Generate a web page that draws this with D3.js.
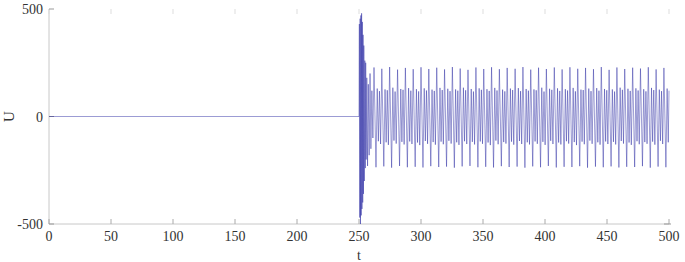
<!DOCTYPE html>
<html>
<head>
<meta charset="utf-8">
<script src="https://cdn.jsdelivr.net/npm/d3@7"></script>
<style>
  body { margin: 0; background: #fff; }
  text { font-family: "Liberation Serif", "Times New Roman", serif; fill: #333; }
</style>
</head>
<body>
<svg id="chart"></svg>
<script>
// t / U samples (extrema of the signal), one cycle per line
const tValues = [
  0, 250.0,
  250.3, 250.6, 250.9, 251.2, 251.5, 251.8, 252.1, 252.4, 252.7, 253.0,
  253.3, 253.6, 253.9, 254.3, 254.7, 255.1, 255.4, 255.8, 256.3, 256.9,
  257.5, 258.2, 258.9, 259.6, 260.4, 261.2,
  262.1, 263.7, 264.7, 265.6, 266.5, 267.4,
  268.4, 270.0, 271.0, 271.9, 272.8, 273.7,
  274.7, 276.3, 277.3, 278.2, 279.1, 280.0,
  281.1, 282.7, 283.7, 284.6, 285.5, 286.4,
  287.4, 289.0, 290.0, 290.9, 291.8, 292.7,
  293.7, 295.3, 296.3, 297.2, 298.1, 299.0,
  300.0, 301.6, 302.6, 303.5, 304.4, 305.3,
  306.3, 307.9, 308.9, 309.8, 310.7, 311.6,
  312.7, 314.3, 315.3, 316.2, 317.1, 318.0,
  319.0, 320.6, 321.6, 322.5, 323.4, 324.3,
  325.3, 326.9, 327.9, 328.8, 329.7, 330.6,
  331.6, 333.2, 334.2, 335.1, 336.0, 336.9,
  337.9, 339.5, 340.5, 341.4, 342.3, 343.2,
  344.3, 345.9, 346.9, 347.8, 348.7, 349.6,
  350.6, 352.2, 353.2, 354.1, 355.0, 355.9,
  356.9, 358.5, 359.5, 360.4, 361.3, 362.2,
  363.2, 364.8, 365.8, 366.7, 367.6, 368.5,
  369.5, 371.1, 372.1, 373.0, 373.9, 374.8,
  375.9, 377.5, 378.5, 379.4, 380.3, 381.2,
  382.2, 383.8, 384.8, 385.7, 386.6, 387.5,
  388.5, 390.1, 391.1, 392.0, 392.9, 393.8,
  394.8, 396.4, 397.4, 398.3, 399.2, 400.1,
  401.1, 402.7, 403.7, 404.6, 405.5, 406.4,
  407.5, 409.1, 410.1, 411.0, 411.9, 412.8,
  413.8, 415.4, 416.4, 417.3, 418.2, 419.1,
  420.1, 421.7, 422.7, 423.6, 424.5, 425.4,
  426.4, 428.0, 429.0, 429.9, 430.8, 431.7,
  432.7, 434.3, 435.3, 436.2, 437.1, 438.0,
  439.1, 440.7, 441.7, 442.6, 443.5, 444.4,
  445.4, 447.0, 448.0, 448.9, 449.8, 450.7,
  451.7, 453.3, 454.3, 455.2, 456.1, 457.0,
  458.0, 459.6, 460.6, 461.5, 462.4, 463.3,
  464.3, 465.9, 466.9, 467.8, 468.7, 469.6,
  470.7, 472.3, 473.3, 474.2, 475.1, 476.0,
  477.0, 478.6, 479.6, 480.5, 481.4, 482.3,
  483.3, 484.9, 485.9, 486.8, 487.7, 488.6,
  489.6, 491.2, 492.2, 493.1, 494.0, 494.9,
  495.9, 497.5, 498.5, 499.4, 500.0
];
const uValues = [
  0, 0,
  430, -470, 455, -500, 470, -460, 480, -430, 440, -400,
  380, -360, 330, -300, 260, -240, 250, -200, 180, -230,
  150, -180, 200, -150, 120, -100,
  228, -236, 130, -115, 118, -128,
  222, -232, 126, -120, 122, -132,
  230, -238, 134, -112, 116, -126,
  218, -230, 128, -118, 124, -130,
  226, -236, 132, -116, 120, -128,
  220, -234, 127, -121, 117, -133,
  229, -237, 131, -114, 121, -127,
  221, -231, 125, -119, 119, -131,
  227, -235, 133, -117, 123, -129,
  219, -233, 129, -113, 118, -126,
  230, -238, 126, -120, 120, -132,
  223, -232, 134, -115, 122, -128,
  217, -230, 128, -118, 116, -130,
  228, -236, 131, -116, 124, -127,
  221, -234, 127, -121, 119, -133,
  229, -237, 133, -112, 121, -129,
  220, -231, 125, -119, 117, -126,
  226, -235, 130, -117, 123, -131,
  222, -233, 132, -114, 118, -128,
  230, -238, 128, -120, 120, -130,
  218, -232, 126, -116, 122, -127,
  227, -236, 134, -118, 116, -132,
  221, -230, 129, -113, 124, -128,
  228, -237, 131, -121, 119, -130,
  219, -234, 127, -115, 121, -126,
  229, -235, 133, -119, 117, -133,
  222, -231, 125, -117, 123, -129,
  226, -238, 130, -112, 118, -127,
  220, -233, 132, -120, 120, -131,
  230, -236, 128, -116, 122, -128,
  217, -232, 126, -118, 116, -130,
  228, -237, 134, -114, 124, -126,
  221, -234, 129, -121, 119, -132,
  227, -235, 131, -115, 121, -129,
  223, -231, 127, -119, 117, -127,
  229, -238, 133, -117, 123, -131,
  219, -233, 125, -113, 118, -128,
  226, -236, 130, -120, 120, -130,
  222, -232, 132, -116, 122, -127,
  228, -237, 128, -118, 20
];
const xTicks = [0, 50, 100, 150, 200, 250, 300, 350, 400, 450, 500];
const yTicks = [-500, 0, 500];

const width = 685, height = 262;
const margin = { top: 9, right: 16, bottom: 38, left: 49 };

const svg = d3.select('#chart').attr('width', width).attr('height', height);

const x = d3.scaleLinear().domain([0, 500]).range([margin.left, width - margin.right]);
const y = d3.scaleLinear().domain([-500, 500]).range([height - margin.bottom, margin.top]);

const axisColor = '#c8c8c8';
const x0 = x.range()[0], x1 = x.range()[1];
const y0 = y.range()[0], y1 = y.range()[1];

// axis lines
svg.append('line').attr('x1', x0).attr('x2', x0).attr('y1', y1).attr('y2', y0)
  .attr('stroke', axisColor).attr('stroke-width', 1);
svg.append('line').attr('x1', x0).attr('x2', x1).attr('y1', y0).attr('y2', y0)
  .attr('stroke', axisColor).attr('stroke-width', 1);

// x ticks (bottom and top, pointing inward)
svg.selectAll('.xtb').data(xTicks).enter().append('line')
  .attr('x1', d => x(d)).attr('x2', d => x(d))
  .attr('y1', y0).attr('y2', y0 - 5)
  .attr('stroke', '#aaa');
svg.selectAll('.xtt').data(xTicks).enter().append('line')
  .attr('x1', d => x(d)).attr('x2', d => x(d))
  .attr('y1', y1).attr('y2', y1 + 5)
  .attr('stroke', '#ddd');
// y ticks (left) and the lone right-hand one at -500
svg.selectAll('.ytl').data(yTicks).enter().append('line')
  .attr('x1', x0).attr('x2', x0 + 5)
  .attr('y1', d => y(d)).attr('y2', d => y(d))
  .attr('stroke', '#999');
svg.append('line')
  .attr('x1', x1 - 5).attr('x2', x1 + 2)
  .attr('y1', y(-500)).attr('y2', y(-500))
  .attr('stroke', '#999');

// tick labels
svg.selectAll('.xl').data(xTicks).enter().append('text')
  .attr('x', d => x(d)).attr('y', y0 + 17)
  .attr('text-anchor', 'middle').attr('font-size', 14)
  .text(d => d);
svg.selectAll('.yl').data(yTicks).enter().append('text')
  .attr('x', x0 - 6).attr('y', d => y(d) + 5)
  .attr('text-anchor', 'end').attr('font-size', 14)
  .text(d => d);

// axis titles
svg.append('text').attr('x', x(250)).attr('y', height - 2)
  .attr('text-anchor', 'middle').attr('font-size', 14).text('t');
svg.append('text')
  .attr('transform', `translate(14,${y(0)}) rotate(-90)`)
  .attr('text-anchor', 'middle').attr('font-size', 15).text('U');

// signal
const pts = tValues.map((t, i) => [t, uValues[i]]);
const line = d3.line().x(d => x(d[0])).y(d => y(d[1]));
svg.append('path')
  .datum(pts)
  .attr('d', line)
  .attr('fill', 'none')
  .attr('stroke', '#2424a0')
  .attr('stroke-opacity', 0.9)
  .attr('stroke-width', 0.5)
  .attr('stroke-linejoin', 'round');
</script>
</body>
</html>
